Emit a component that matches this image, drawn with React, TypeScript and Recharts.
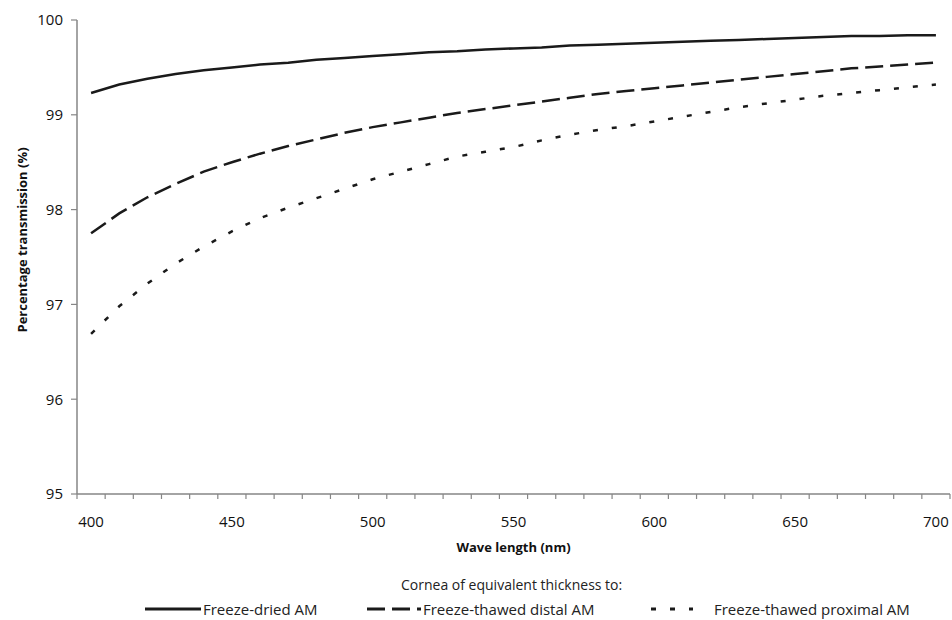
import React from "react";
import { LineChart, Line, XAxis, YAxis, Legend } from "recharts";

// wavelength categories (nm), one point every 10 nm
const wavelengths = [
  400, 410, 420, 430, 440, 450, 460, 470, 480, 490, 500, 510, 520, 530, 540, 550,
  560, 570, 580, 590, 600, 610, 620, 630, 640, 650, 660, 670, 680, 690, 700,
];

// percentage transmission
const freezeDried = [
  99.23, 99.32, 99.38, 99.43, 99.47, 99.5, 99.53, 99.55, 99.58, 99.6, 99.62, 99.64,
  99.66, 99.67, 99.69, 99.7, 99.71, 99.73, 99.74, 99.75, 99.76, 99.77, 99.78, 99.79,
  99.8, 99.81, 99.82, 99.83, 99.83, 99.84, 99.84,
];
const thawedDistal = [
  97.75, 97.96, 98.13, 98.27, 98.4, 98.5, 98.59, 98.67, 98.74, 98.81, 98.87, 98.92,
  98.97, 99.02, 99.06, 99.1, 99.14, 99.18, 99.22, 99.25, 99.28, 99.31, 99.34, 99.37,
  99.4, 99.43, 99.46, 99.49, 99.51, 99.53, 99.55,
];
const thawedProximal = [
  96.69, 96.98, 97.22, 97.43, 97.61, 97.77, 97.91, 98.02, 98.12, 98.22, 98.32, 98.4,
  98.48, 98.56, 98.61, 98.66, 98.73, 98.79, 98.84, 98.88, 98.93, 98.98, 99.03, 99.08,
  99.12, 99.16, 99.2, 99.23, 99.26, 99.29, 99.32,
];

const xLabelTicks = [400, 450, 500, 550, 600, 650, 700];
const yTicks = [95, 96, 97, 98, 99, 100];

const legendTitle = "Cornea of equivalent thickness to:";
const series = [
  { key: "dried", name: "Freeze-dried AM", dash: undefined as string | undefined },
  { key: "distal", name: "Freeze-thawed distal AM", dash: "18 7" },
  { key: "proximal", name: "Freeze-thawed proximal AM", dash: "5 14" },
];

const data = wavelengths.map((wl, i) => ({
  wl,
  dried: freezeDried[i],
  distal: thawedDistal[i],
  proximal: thawedProximal[i],
}));

// tick marks sit between categories, like a category axis in a spreadsheet
const boundaryTicks = [...wavelengths.map((w) => w - 5), wavelengths[wavelengths.length - 1] + 5];

const FONT = "'Open Sans', sans-serif";
const AXIS = "#868686";
const INK = "#1a1a1a";

// legend samples/labels positions (px inside the legend box)
const legendItems = [
  { sample: [145, 201], text: 203 },
  { sample: [367, 421], text: 423 },
  { sample: [651, 693], text: 714 },
];

const LegendBox = () => (
  <div style={{ position: "relative", width: 952, height: 65, fontFamily: FONT, color: "#222" }}>
    <div style={{ position: "absolute", top: 21, left: 401, fontSize: 14, lineHeight: "18px", whiteSpace: "nowrap" }}>
      {legendTitle}
    </div>
    {series.map((s, i) => {
      const it = legendItems[i];
      const w = it.sample[1] - it.sample[0];
      return (
        <React.Fragment key={s.key}>
          <svg style={{ position: "absolute", left: it.sample[0], top: 48 }} width={w} height={12}>
            <line x1={0} y1={6} x2={w} y2={6} stroke={INK} strokeWidth={3} strokeDasharray={s.dash} />
          </svg>
          <div style={{ position: "absolute", left: it.text, top: 45, fontSize: 15, lineHeight: "18px", whiteSpace: "nowrap" }}>
            {s.name}
          </div>
        </React.Fragment>
      );
    })}
  </div>
);

const App: React.FC = () => {
  return (
    <div style={{ position: "absolute", left: 0, top: 0, width: 952, height: 620, background: "#fff" }}>
      <LineChart width={952} height={620} data={data} margin={{ top: 20, right: 2, left: 0, bottom: 0 }}>
        <XAxis
          xAxisId="bounds"
          dataKey="wl"
          type="number"
          domain={[395, 705]}
          ticks={boundaryTicks}
          interval={0}
          height={1}
          tick={() => <g />}
          tickSize={5}
          stroke={AXIS}
          tickLine={{ stroke: AXIS, strokeWidth: 1.2 }}
          axisLine={{ stroke: AXIS, strokeWidth: 1.5 }}
        />
        <XAxis
          xAxisId="labels"
          dataKey="wl"
          type="number"
          domain={[395, 705]}
          ticks={xLabelTicks}
          interval={0}
          height={60}
          axisLine={false}
          tickLine={false}
          tickSize={0}
          tickMargin={21}
          tick={{ fill: "#111", fontSize: 15, fontFamily: FONT }}
          label={{
            value: "Wave length (nm)",
            position: "insideBottom",
            offset: 3,
            style: { fontFamily: FONT, fontSize: 13, fontWeight: 700, fill: "#111" },
          }}
        />
        <YAxis
          domain={[95, 100]}
          ticks={yTicks}
          interval={0}
          width={77}
          tickSize={6}
          tickMargin={8}
          stroke={AXIS}
          tickLine={{ stroke: AXIS, strokeWidth: 1.2 }}
          axisLine={{ stroke: AXIS, strokeWidth: 1.5 }}
          tick={{ fill: "#111", fontSize: 15, fontFamily: FONT }}
          label={{
            content: () => (
              <text
                x={22}
                y={240}
                transform="rotate(-90 22 240)"
                textAnchor="middle"
                dominantBaseline="central"
                style={{ fontFamily: FONT, fontSize: 13, fontWeight: 700, fill: "#111" }}
              >
                Percentage transmission (%)
              </text>
            ),
          }}
        />
        {series.map((s) => (
          <Line
            key={s.key}
            xAxisId="bounds"
            dataKey={s.key}
            name={s.name}
            type="linear"
            stroke={INK}
            strokeWidth={2.5}
            strokeDasharray={s.dash}
            dot={false}
            isAnimationActive={false}
          />
        ))}
        <Legend
          verticalAlign="bottom"
          content={() => <LegendBox />}
          wrapperStyle={{ left: 0, bottom: 0, width: 952, height: 65 }}
        />
      </LineChart>
    </div>
  );
};

export default App;
